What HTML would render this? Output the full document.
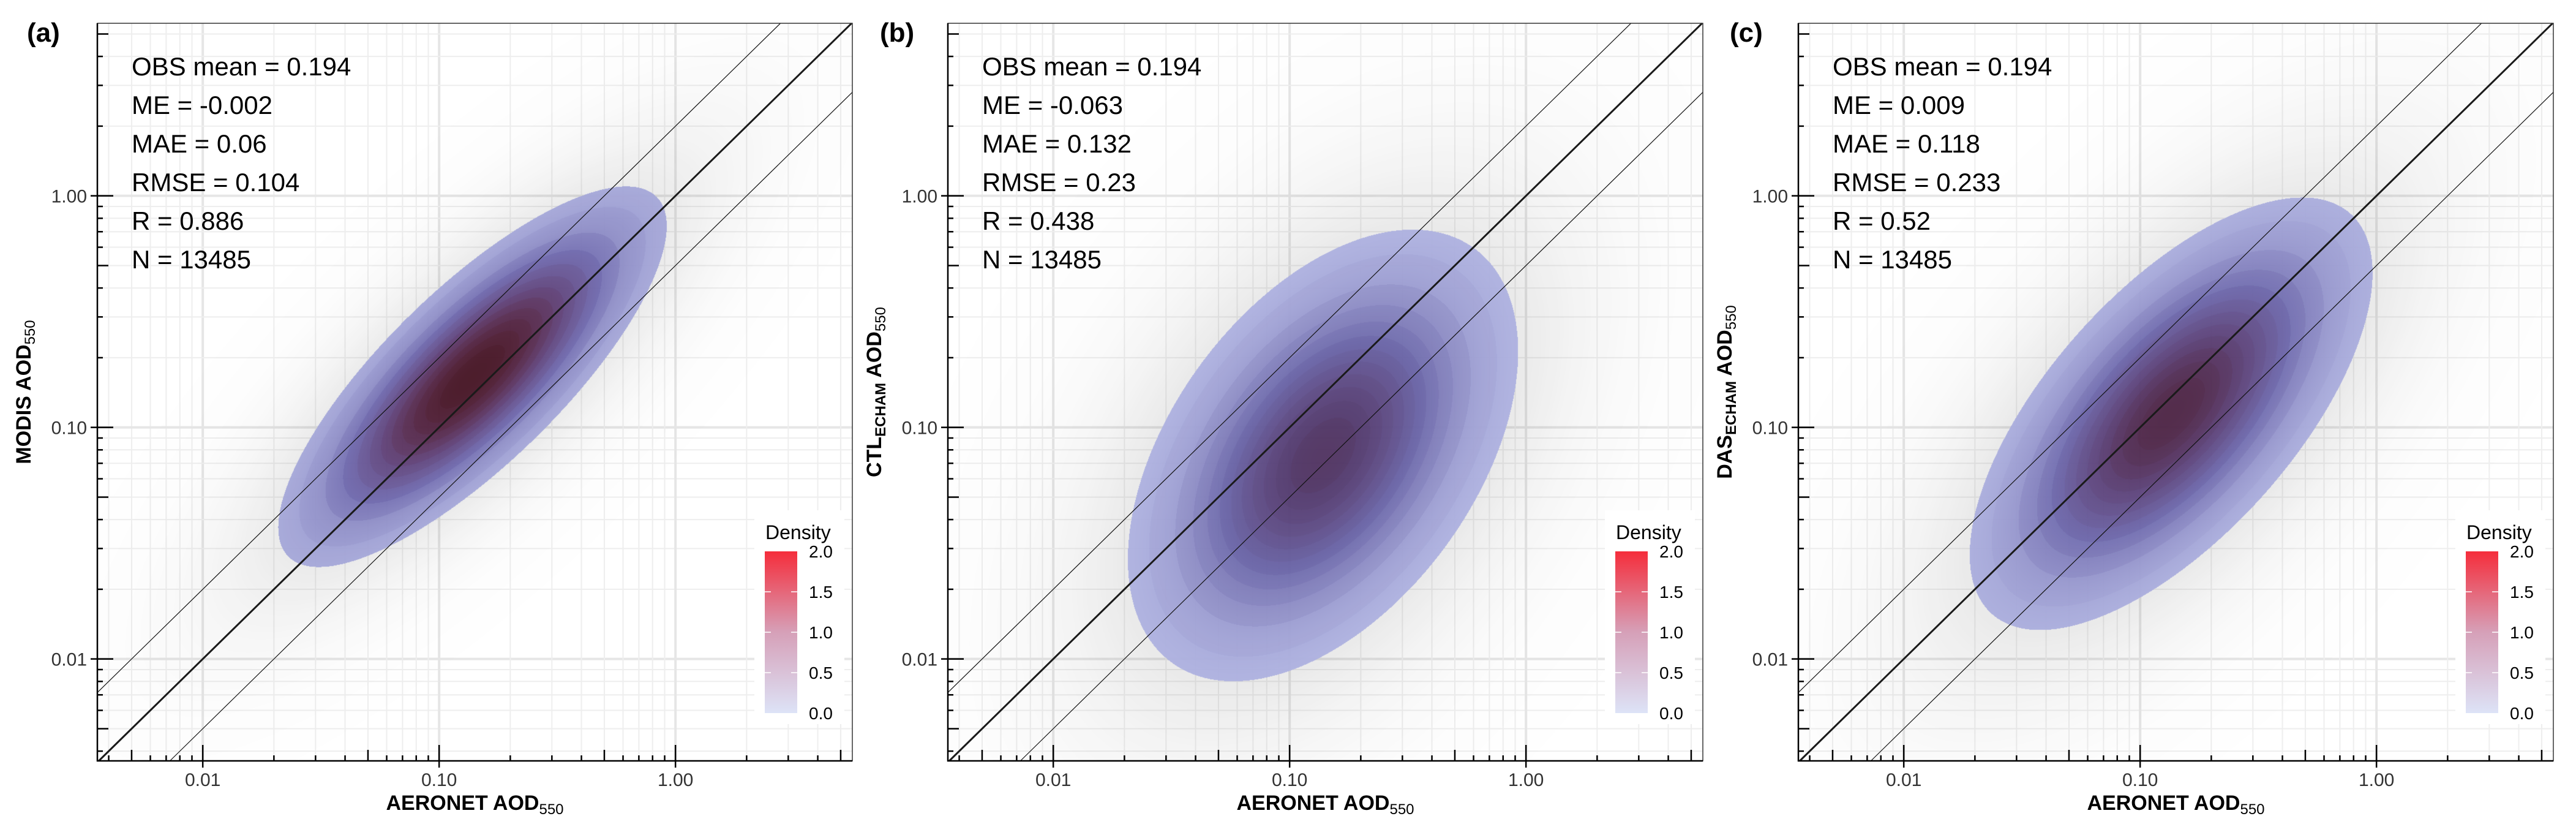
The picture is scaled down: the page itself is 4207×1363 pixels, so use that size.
<!DOCTYPE html>
<html><head><meta charset="utf-8">
<style>
html,body{margin:0;padding:0;background:#fff;width:4207px;height:1363px;overflow:hidden;}
#wrap{position:relative;width:4207px;height:1363px;overflow:hidden;font-family:"Liberation Sans",Arial,sans-serif;}
svg,canvas{position:absolute;left:0;top:0;display:block;}
</style></head>
<body>
<div id="wrap">
<svg id="gridlayer" width="4207" height="1363"></svg>
<canvas id="cv0" width="1233" height="1204"></canvas>
<canvas id="cv1" width="1233" height="1204"></canvas>
<canvas id="cv2" width="1233" height="1204"></canvas>
<svg id="overlay" width="4207" height="1363"></svg>
</div>
<script>
// ---- data ----
const panelTags = ['(a)','(b)','(c)'];
const yTitleMain = ['MODIS','CTL','DAS'];
const yTitleSub = ['','ECHAM','ECHAM'];
const obsMean = ['0.194','0.194','0.194'];
const meVals = ['-0.002','-0.063','0.009'];
const maeVals = ['0.06','0.132','0.118'];
const rmseVals = ['0.104','0.23','0.233'];
const rVals = ['0.886','0.438','0.52'];
const nVals = ['13485','13485','13485'];
const majorTicks = [0.01, 0.1, 1];
const majorLabels = ['0.01','0.10','1.00'];
const minorMultipliers = [2,3,4,5,6,7,8,9];
const legendTicks = [0.0, 0.5, 1.0, 1.5, 2.0];
const legendLabels = ['0.0','0.5','1.0','1.5','2.0'];
// density cloud (log10 space) per panel
const cloudCenterX = [-0.86, -0.86, -0.87];
const cloudCenterY = [-0.78, -1.12, -0.94];
const cloudAngle = [45, 55, 49];
const cloudSdMajor = [0.44, 0.44, 0.46];
const cloudSdMinor = [0.15, 0.26, 0.21];
const peakDensity = [2.0, 1.15, 1.5];
const pointShade = [0.74, 0.6, 0.66];
const hazeStrength = [0.26, 0.28, 0.28];

// ---- layout ----
const NS='http://www.w3.org/2000/svg';
const panelLeft=[159,1548,2937], PW=1233, PT=38, PB=1242, PH=1204;
const LMIN=-2.446, LMAXY=0.745, LMINY=-2.44, DX=386, DY=378;
const LMAXX=LMIN+PW/DX;
function X(p,v){return panelLeft[p]+(Math.log10(v)-LMIN)*DX;}
function Y(v){return PB-(Math.log10(v)-LMINY)*DY;}
function mk(parent,tag,attrs){const e=document.createElementNS(NS,tag);for(const k in attrs)e.setAttribute(k,attrs[k]);parent.appendChild(e);return e;}
const gridSvg=document.getElementById('gridlayer'), ov=document.getElementById('overlay');
const tickVals=[];
[0.001,0.01,0.1,1].forEach(d=>{tickVals.push({v:d,major:majorTicks.includes(d)});minorMultipliers.forEach(m=>tickVals.push({v:d*m,major:false,mult:m}));});
const rampE=[0,0.25,0.5,1];
const rampC=[[200,205,250],[158,150,236],[176,120,200],[240,50,70]];
function ramp(e){for(let i=1;i<rampE.length;i++){if(e<=rampE[i]){const t=(e-rampE[i-1])/(rampE[i]-rampE[i-1]);return rampC[i-1].map((c,k)=>c+(rampC[i][k]-c)*t);}}return rampC[rampC.length-1];}

for(let p=0;p<3;p++){
  const L=panelLeft[p], R=L+PW;
  tickVals.forEach(o=>{
    const x=X(p,o.v);
    if(x>L&&x<R){const g=mk(gridSvg,'line',{x1:x,x2:x,y1:PT,y2:PB,stroke:o.major?'#e6e6e6':'#eeeeee','stroke-width':o.major?4:2});
      }
    const y=Y(o.v);
    if(y>PT&&y<PB){const g=mk(gridSvg,'line',{x1:L,x2:R,y1:y,y2:y,stroke:o.major?'#e6e6e6':'#eeeeee','stroke-width':o.major?4:2});
      }
  });
  const cv=document.getElementById('cv'+p);
  cv.style.left=L+'px';cv.style.top=PT+'px';
  const ctx=cv.getContext('2d');const img=ctx.createImageData(PW,PH);const D=img.data;
  const a=cloudAngle[p]*Math.PI/180, ca=Math.cos(a), sa=Math.sin(a);
  const sM=cloudSdMajor[p], sm=cloudSdMinor[p], cx=cloudCenterX[p], cy=cloudCenterY[p];
  const t0=Math.exp(-0.5*2.5*2.5);
  for(let j=0;j<PH;j++){
    const ly=LMAXY-j/DY;
    for(let i=0;i<PW;i++){
      const lx=LMIN+i/DX;
      const dx=lx-cx, dy=ly-cy;
      const u=dx*ca+dy*sa, w=-dx*sa+dy*ca;
      const r2=(u/sM)*(u/sM)+(w/sm)*(w/sm);
      const f=Math.exp(-0.5*r2);
      const k=(j*PW+i)*4;
      if(f>=t0){
        const fq=Math.floor(f*12)/12;
        const fm=0.5*f+0.5*Math.max(fq,t0);
        const c=ramp(Math.min(1,peakDensity[p]*fm/2));
        const dark=pointShade[p]*(0.12+0.88*Math.pow(fm,0.75));
        D[k]=c[0]*(1-dark);D[k+1]=c[1]*(1-dark);D[k+2]=c[2]*(1-dark*0.85);D[k+3]=240;
      } else {
        const h=hazeStrength[p]*Math.exp(-0.5*r2/3.4);
        D[k]=60;D[k+1]=60;D[k+2]=60;D[k+3]=Math.round(h*255);
      }
    }
  }
  ctx.putImageData(img,0,0);

  // diagonal lines computed within plot bounds
  [[1,3,'#1a1a1a','one-to-one-line'],[2,1.2,'#111','upper-factor2-line'],[0.5,1.2,'#111','lower-factor2-line']].forEach(s=>{
    const ls=Math.log10(s[0]);
    const lx1=Math.max(LMIN, LMINY-ls), lx2=Math.min(LMAXX, LMAXY-ls);
    const v1=Math.pow(10,lx1), v2=Math.pow(10,lx2);
    const ln=mk(ov,'line',{x1:X(p,v1),y1:Y(v1*s[0]),x2:X(p,v2),y2:Y(v2*s[0]),stroke:s[2],'stroke-width':s[1]});
    
  });
  const bd=mk(ov,'rect',{x:L,y:PT,width:PW,height:PH,fill:'none',stroke:'#333','stroke-width':1.5});
  
  const la=mk(ov,'line',{x1:L,x2:L,y1:PT,y2:PB+1,stroke:'#000','stroke-width':2.5});
  
  const ba=mk(ov,'line',{x1:L-1,x2:R,y1:PB,y2:PB,stroke:'#000','stroke-width':2.5});
  
  tickVals.forEach(o=>{
    const inner=o.major?26:(o.mult===5?18:9), outer=o.major?11:0;
    const x=X(p,o.v);
    if(x>L&&x<R){const t=mk(ov,'line',{x1:x,x2:x,y1:PB-inner,y2:PB+outer,stroke:'#000','stroke-width':2.5});
      }
    const y=Y(o.v);
    if(y>PT&&y<PB){const t=mk(ov,'line',{x1:L-outer,x2:L+inner,y1:y,y2:y,stroke:'#000','stroke-width':2.5});
      }
  });
  majorTicks.forEach((v,i)=>{
    const tx=mk(ov,'text',{x:X(p,v),y:PB+41,'text-anchor':'middle','font-size':30,fill:'#333'});tx.textContent=majorLabels[i];
    
    const ty=mk(ov,'text',{x:L-17,y:Y(v)+11,'text-anchor':'end','font-size':30,fill:'#333'});ty.textContent=majorLabels[i];
    
  });
  const xt=mk(ov,'text',{x:L+PW/2,y:1322,'text-anchor':'middle','font-size':34,'font-weight':'bold',fill:'#000'});
  xt.innerHTML='AERONET AOD<tspan font-size="24" font-weight="normal" dy="7">550</tspan>';
  
  const yt=mk(ov,'text',{x:0,y:0,'text-anchor':'middle','font-size':34,'font-weight':'bold',fill:'#000',transform:`translate(${L-109},640) rotate(-90)`});
  yt.innerHTML=yTitleMain[p]+(yTitleSub[p]?'<tspan font-size="24" dy="7">'+yTitleSub[p]+'</tspan><tspan dy="-7"> AOD</tspan>':' AOD')+'<tspan font-size="24" font-weight="normal" dy="7">550</tspan>';
  
  const pt=mk(ov,'text',{x:[44,1437,2825][p],y:68,'font-size':44,'font-weight':'bold',fill:'#000'});pt.textContent=panelTags[p];
  
  const lines=['OBS mean = '+obsMean[p],'ME = '+meVals[p],'MAE = '+maeVals[p],'RMSE = '+rmseVals[p],'R = '+rVals[p],'N = '+nVals[p]];
  lines.forEach((s,i)=>{const t=mk(ov,'text',{x:L+56,y:123+i*63,'font-size':42,fill:'#000'});t.textContent=s;
    });
  const lg=mk(ov,'g',{});
  mk(lg,'rect',{x:L+1073,y:833,width:147,height:349,fill:'#fff'});
  const lt=mk(lg,'text',{x:L+1091,y:880,'font-size':32,fill:'#000'});lt.textContent='Density';
  
  const gid='lgrad'+p;const gr=mk(lg,'linearGradient',{id:gid,x1:0,y1:1,x2:0,y2:0});
  mk(gr,'stop',{offset:'0','stop-color':'#dde3f7'});mk(gr,'stop',{offset:'0.5','stop-color':'#d6a0b8'});mk(gr,'stop',{offset:'1','stop-color':'#f52d3b'});
  const cb=mk(lg,'rect',{x:L+1090,y:900,width:53,height:264,fill:'url(#'+gid+')'});
  
  legendTicks.forEach((v,i)=>{
    const y=1164-v/2*264;
    if(v>0&&v<2){mk(lg,'line',{x1:L+1090,x2:L+1100,y1:y,y2:y,stroke:'#fff','stroke-width':1.5});mk(lg,'line',{x1:L+1133,x2:L+1143,y1:y,y2:y,stroke:'#fff','stroke-width':1.5});}
    const t=mk(lg,'text',{x:L+1162,y:y+10,'font-size':28,fill:'#000'});t.textContent=legendLabels[i];
    
  });
}
</script>
</body></html>
